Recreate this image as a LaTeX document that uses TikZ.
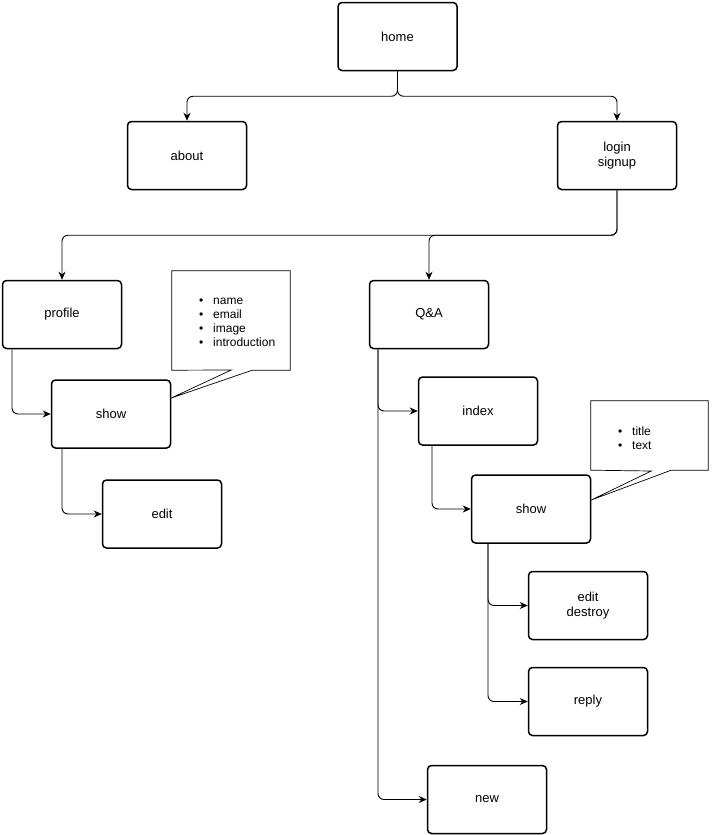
\documentclass[tikz,border=0pt]{standalone}
\usepackage{fontspec}
\setmainfont{Liberation Sans}
\usetikzlibrary{arrows.meta, positioning}
\newcommand{\litem}[1]{\makebox[14pt][l]{\textbullet}#1}

\begin{document}
\begin{tikzpicture}[x=1pt, y=-1pt, >={Stealth[length=8pt,width=7pt]},
	main/.style = {draw, rounded corners=4pt, line width=1.5pt, minimum width=119pt, minimum height=68pt, align=center, font=\fontsize{13}{15}\selectfont},
	note/.style = {minimum width=118pt, minimum height=99pt, inner sep=0pt},
	list/.style = {inner sep=0pt, align=left, font=\fontsize{12}{14}\selectfont},
	link/.style = {->, rounded corners=6pt, line width=0.9pt}]
	\useasboundingbox (0,0) rectangle (712,835);
	\node[main] (home) at (397.5,36.5) {home};
	\node[main] (about) at (187,155.5) {about};
	\node[main] (login) at (617,155.5) {login\\signup};
	\node[main] (profile) at (62,314.5) {profile};
	\node[main] (qa) at (429,314.5) {Q\&A};
	\node[main] (show1) at (111,414) {show};
	\node[main] (edit1) at (162,514) {edit};
	\node[main] (index) at (478,411) {index};
	\node[main] (show2) at (531,509) {show};
	\node[main] (editd) at (588,605.5) {edit\\destroy};
	\node[main] (reply) at (588,701.5) {reply};
	\node[main] (new) at (487,799.5) {new};
	% callouts
	\node[note] (note1) at (231,320.5) {};
	\node[note, minimum width=117pt, minimum height=69pt] (note2) at (649.5,435.5) {};
	\draw[fill=white, line width=0.7pt] (note1.south west) -- (note1.north west) -- (note1.north east)
		-- (note1.south east) -- ++(-38,0) -- ([yshift=16pt]show1.east) -- ++(60,-28) -- cycle;
	\draw[fill=white, line width=0.7pt] (note2.south west) -- (note2.north west) -- (note2.north east)
		-- (note2.south east) -- ++(-37,0) -- ([yshift=9pt]show2.east) -- ++(60,-29) -- cycle;
	\node[list, anchor=west] (list1) at (199,322) {\litem{name}\\\litem{email}\\\litem{image}\\\litem{introduction}};
	\node[list, anchor=west] (list2) at (618,438) {\litem{title}\\\litem{text}};
	% connectors
	\draw[link] (home.south) -- ++(0,25) -| (about.north);
	\draw[link] (home.south) -- ++(0,25) -| (login.north);
	\draw[link] (login.south) -- ++(0,45) -| (profile.north);
	\draw[link] (login.south) -- ++(0,45) -| (qa.north);
	\draw[link] ([xshift=-50pt]profile.south) |- (show1.west);
	\draw[link] ([xshift=-49pt]show1.south) |- (edit1.west);
	\draw[link] ([xshift=-51pt]qa.south) |- (index.west);
	\draw[link] ([xshift=-51pt]qa.south) |- (new.west);
	\draw[link] ([xshift=-46pt]index.south) |- (show2.west);
	\draw[link] ([xshift=-43pt]show2.south) |- (editd.west);
	\draw[link] ([xshift=-43pt]show2.south) |- (reply.west);
\end{tikzpicture}
\end{document}
